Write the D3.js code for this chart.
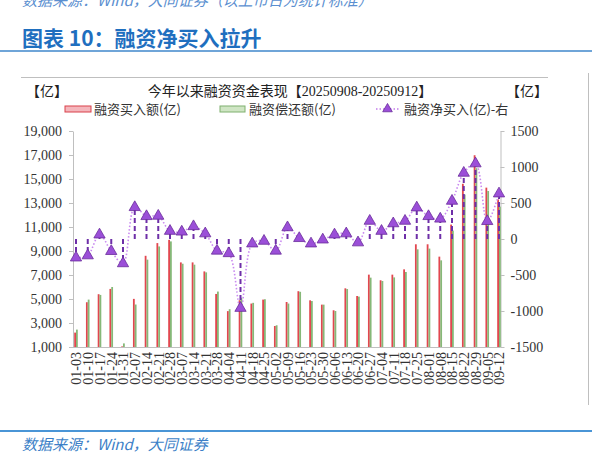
<!DOCTYPE html>
<html>
<head>
<meta charset="utf-8">
<script src="https://cdn.jsdelivr.net/npm/d3@7"></script>
<style>
  body { margin: 0; background: #fff; }
  svg { display: block; }
  .tick text { font-family: "Liberation Serif", "Noto Sans CJK SC", serif; font-size: 14px; fill: #333; }
</style>
</head>
<body>
<div id="container"></div>
<script>
/* DATA */
const dates = ["01-03","01-10","01-17","01-24","01-31","02-07","02-14","02-21","02-28","03-07",
  "03-14","03-21","03-28","04-04","04-11","04-18","04-25","05-02","05-09","05-16",
  "05-23","05-30","06-06","06-13","06-20","06-27","07-04","07-11","07-18","07-25",
  "08-01","08-08","08-15","08-22","08-29","09-05","09-12"]

// 融资买入额(亿)
const buyAmt = [2200,4730,5400,5840,1050,5010,8600,9660,9930,8050,
  8050,7300,5420,3990,4900,4620,4950,2750,4750,5650,
  4890,4530,4060,5890,5250,7030,6560,7030,7470,9560,
  9560,8530,11200,14600,16980,14280,13300]

// 融资偿还额(亿)
const repayAmt = [2450,4950,5340,6000,1300,4540,8280,9380,9800,7940,
  7860,7220,5620,4150,5100,4680,4980,2810,4620,5600,
  4830,4530,4000,5830,5200,6780,6500,6800,7250,9140,
  9200,8220,10700,13700,15900,14000,12700]

// 融资净买入(亿)-右
const netBuy = [-260,-230,60,-170,-340,440,315,320,110,100,
  175,75,-165,-200,-960,-65,-28,-165,160,10,
  -65,-10,60,75,-50,250,110,215,250,435,
  315,280,528,917,1047,246,630]

const leftTicks = [1000,3000,5000,7000,9000,11000,13000,15000,17000,19000]
const rightTicks = [-1500,-1000,-500,0,500,1000,1500]

/* CONSTANTS */
const width = 592,
  height = 467,
  plot = { left: 73, right: 500.5, top: 131, bottom: 347 }

const cjk = '"Noto Sans CJK SC", sans-serif'
const serif = '"Liberation Serif", "Noto Sans CJK SC", serif'
const gridGray = "#BFBFBF"

const svg = d3.select("#container")
  .append("svg")
  .attr("width", width)
  .attr("height", height)

svg.append("rect").attr("width", width).attr("height", height).attr("fill", "#fff")

// page header / footer bits (top line is cut by the page edge, as in the source)
svg.append("text")
  .attr("x", 22).attr("y", 6)
  .attr("font-family", cjk).attr("font-size", 15).attr("font-style", "italic")
  .attr("fill", "#5B8FD0")
  .text("数据来源：Wind，大同证券（以上市日为统计标准）")

svg.append("text")
  .attr("x", 22).attr("y", 46)
  .attr("font-family", cjk).attr("font-size", 21).attr("font-weight", "bold")
  .attr("fill", "#1F6FBF")
  .text("图表 10：融资净买入拉升")

svg.append("line")
  .attr("x1", 0).attr("x2", width).attr("y1", 51).attr("y2", 51)
  .attr("stroke", "#6FA5D8").attr("stroke-width", 2)

svg.append("line")
  .attr("x1", 0).attr("x2", width).attr("y1", 431).attr("y2", 431)
  .attr("stroke", "#4A95D6").attr("stroke-width", 2)

svg.append("text")
  .attr("x", 22).attr("y", 450)
  .attr("font-family", cjk).attr("font-size", 15).attr("font-style", "italic")
  .attr("fill", "#3C7FC7")
  .text("数据来源：Wind，大同证券")

// chart frame pieces
svg.append("line")
  .attr("x1", 21).attr("x2", 548).attr("y1", 77.5).attr("y2", 77.5)
  .attr("stroke", gridGray)
svg.append("line")
  .attr("x1", 588.5).attr("x2", 588.5).attr("y1", 73).attr("y2", 405)
  .attr("stroke", gridGray)

/* SCALES */
const xScale = d3.scalePoint()
  .domain(dates)
  .range([76, 499])

const yLeft = d3.scaleLinear()
  .domain([1000, 19000])
  .range([plot.bottom, plot.top])

const yRight = d3.scaleLinear()
  .domain([-1500, 1500])
  .range([plot.bottom, plot.top])

/* TITLES & LEGEND */
svg.append("text")
  .attr("x", 26).attr("y", 96)
  .attr("font-family", cjk).attr("font-size", 14).attr("fill", "#222")
  .text("【亿】")
svg.append("text")
  .attr("x", 548).attr("y", 96).attr("text-anchor", "end")
  .attr("font-family", cjk).attr("font-size", 14).attr("fill", "#222")
  .text("【亿】")

svg.append("text")
  .attr("x", 290).attr("y", 96).attr("text-anchor", "middle")
  .attr("font-family", serif).attr("font-size", 14).attr("fill", "#222")
  .text("今年以来融资资金表现【20250908-20250912】")

const legend = svg.append("g").attr("font-family", cjk).attr("font-size", 13).attr("fill", "#333")

legend.append("rect")
  .attr("x", 65).attr("y", 106).attr("width", 26).attr("height", 6)
  .attr("fill", "#F4B6BC").attr("stroke", "#D9404A").attr("stroke-width", 1)
legend.append("text").attr("x", 94).attr("y", 114).text("融资买入额(亿)")

legend.append("rect")
  .attr("x", 220).attr("y", 106).attr("width", 25).attr("height", 6)
  .attr("fill", "#CFE5C4").attr("stroke", "#7FB06E").attr("stroke-width", 1)
legend.append("text").attr("x", 249).attr("y", 114).text("融资偿还额(亿)")

legend.append("line")
  .attr("x1", 376).attr("x2", 399).attr("y1", 109).attr("y2", 109)
  .attr("stroke", "#C27BEA").attr("stroke-width", 1.5).attr("stroke-dasharray", "1.5,2")
legend.append("path")
  .attr("transform", "translate(387.5,109)")
  .attr("d", d3.symbol(d3.symbolTriangle, 40))
  .attr("fill", "#9B4FD8").attr("stroke", "#6A2C9A").attr("stroke-width", 0.8)
legend.append("text").attr("x", 404).attr("y", 114).text("融资净买入(亿)-右")

/* AXES */
const yAxisLeft = d3.axisLeft(yLeft)
  .tickValues(leftTicks)
  .tickSize(4)
  .tickSizeOuter(0)
  .tickFormat(d3.format(","))

const leftGroup = svg.append("g")
  .attr("transform", `translate(${plot.left}, 0)`)
  .call(yAxisLeft)
leftGroup.selectAll("line, path").attr("stroke", gridGray)
leftGroup.selectAll("text").attr("x", -11)

const yAxisRight = d3.axisRight(yRight)
  .tickValues(rightTicks)
  .tickSize(4)
  .tickSizeOuter(0)

const rightGroup = svg.append("g")
  .attr("transform", `translate(${plot.right}, 0)`)
  .call(yAxisRight)
rightGroup.selectAll("line, path").attr("stroke", gridGray)
rightGroup.selectAll("text").attr("x", 10).text(d => d < 0 ? "-" + Math.abs(d) : d)

const xAxis = d3.axisBottom(xScale).tickSize(0)

const xGroup = svg.append("g")
  .attr("transform", `translate(0, ${plot.bottom})`)
  .call(xAxis)
xGroup.select(".domain")
  .attr("d", `M${plot.left},0.5H${plot.right}`)
  .attr("stroke", gridGray)
xGroup.selectAll("text")
  .attr("transform", "rotate(-90)")
  .attr("x", -5)
  .attr("y", 0)
  .attr("dy", "0.35em")
  .attr("text-anchor", "end")

/* BARS */
const barW = 1.8

svg.append("g")
  .selectAll("rect")
  .data(dates)
  .join("rect")
  .attr("x", d => xScale(d) - barW)
  .attr("y", (d, i) => yLeft(buyAmt[i]))
  .attr("width", barW)
  .attr("height", (d, i) => yLeft(1000) - yLeft(buyAmt[i]))
  .attr("fill", "#E2474F")

svg.append("g")
  .selectAll("rect")
  .data(dates)
  .join("rect")
  .attr("x", d => xScale(d))
  .attr("y", (d, i) => yLeft(repayAmt[i]))
  .attr("width", barW)
  .attr("height", (d, i) => yLeft(1000) - yLeft(repayAmt[i]))
  .attr("fill", "#86B878")

/* NET BUY: dashed drop bars, dotted smooth line, triangles */
svg.append("g")
  .selectAll("line")
  .data(dates)
  .join("line")
  .attr("x1", d => xScale(d)).attr("x2", d => xScale(d))
  .attr("y1", yRight(0))
  .attr("y2", (d, i) => yRight(netBuy[i]))
  .attr("stroke", "#6E2FA8")
  .attr("stroke-width", 2)
  .attr("stroke-dasharray", "5,3")

const lineGen = d3.line()
  .x(d => xScale(d))
  .y((d, i) => yRight(netBuy[i]))
  .curve(d3.curveCatmullRom.alpha(0.5))

svg.append("path")
  .datum(dates)
  .attr("d", lineGen)
  .attr("fill", "none")
  .attr("stroke", "#C98AF0")
  .attr("stroke-width", 1.6)
  .attr("stroke-dasharray", "1.5,2")

svg.append("g")
  .selectAll("path")
  .data(dates)
  .join("path")
  .attr("transform", (d, i) => `translate(${xScale(d)}, ${yRight(netBuy[i])})`)
  .attr("d", d3.symbol(d3.symbolTriangle, 55))
  .attr("fill", "#9B4FD8")
  .attr("stroke", "#6A2C9A")
  .attr("stroke-width", 0.8)
</script>
</body>
</html>
